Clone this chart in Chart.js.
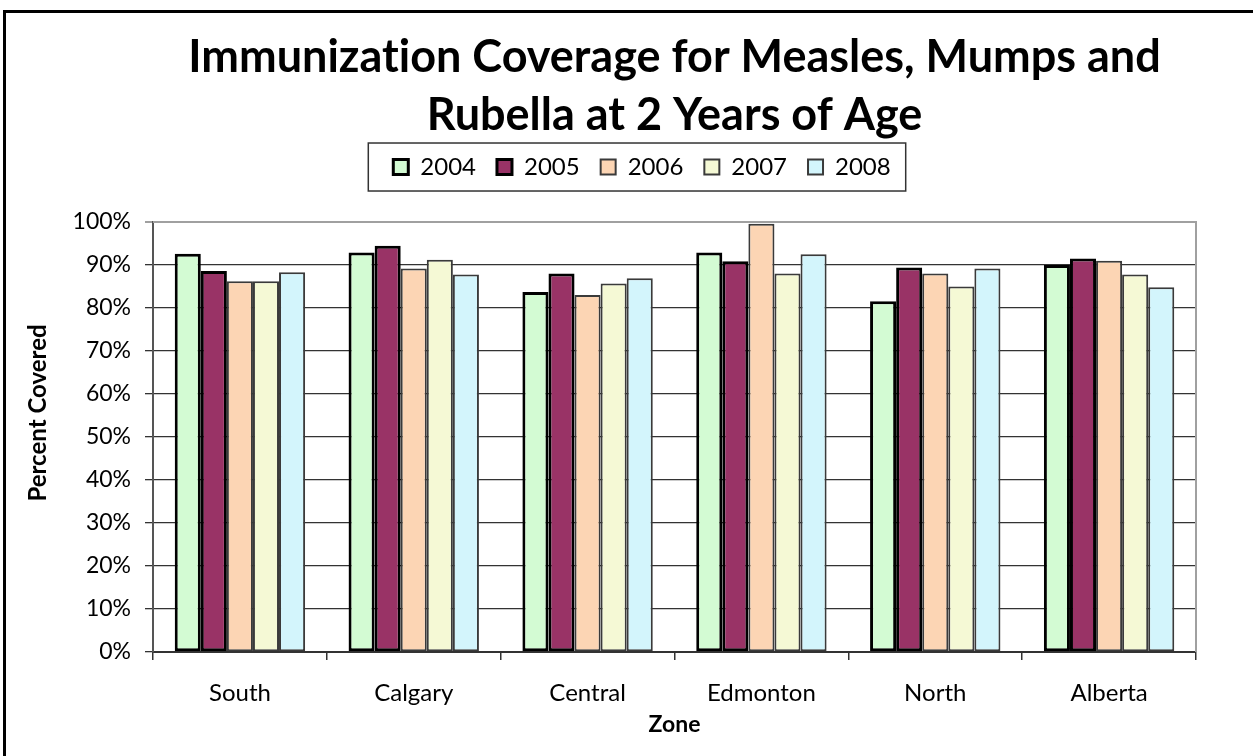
<!DOCTYPE html>
<html>
<head>
<meta charset="utf-8">
<script src="https://cdn.jsdelivr.net/npm/chart.js@4.4.0/dist/chart.umd.min.js"></script>
<style>
  html, body { margin: 0; padding: 0; background: #fff; }
  canvas { display: block; }
</style>
</head>
<body>
<canvas id="mmrChart" width="1253" height="756"></canvas>
<script>
// zones along the x axis
const zones = ["South", "Calgary", "Central", "Edmonton", "North", "Alberta"];
// percent covered per year, in zone order
const cov2004 = [92.6, 92.9, 83.7, 92.9, 81.6, 90.0];
const cov2005 = [88.6, 94.5, 88.0, 90.9, 89.4, 91.5];
const cov2006 = [86.2, 89.2, 83.0, 99.6, 88.0, 91.0];
const cov2007 = [86.2, 91.2, 85.7, 88.0, 85.0, 87.8];
const cov2008 = [88.3, 87.8, 86.9, 92.5, 89.2, 84.8];
const yearLabels = ["2004", "2005", "2006", "2007", "2008"];

const fontFam = "Lato, 'Open Sans', sans-serif";

function makeSet(label, data, fill, edge, width) {
  return {
    label: label,
    data: data,
    backgroundColor: fill,
    borderColor: edge,
    borderWidth: width,
    borderSkipped: false,
  };
}

// legend: extra room below it, nudged up and to the right a little
const legendSpacing = {
  id: "legendSpacing",
  beforeLayout(chart) {
    const lg = chart.legend;
    if (lg && !lg._spaced) {
      const origFit = lg.fit.bind(lg);
      lg.fit = function () {
        origFit();
        this.height += 23;
      };
      lg._spaced = true;
    }
  },
  afterLayout(chart) {
    const lg = chart.legend;
    if (lg) {
      lg.top -= 10;
      lg.bottom -= 10;
      lg.left += 33;
      lg.right += 33;
    }
    // y title sits a bit above the middle of the axis
    const ys = chart.scales.y;
    if (ys && !ys._titleShift) {
      const origTitle = ys.drawTitle.bind(ys);
      ys.drawTitle = function () {
        this.top -= 24;
        this.bottom -= 24;
        origTitle();
        this.top += 24;
        this.bottom += 24;
      };
      ys._titleShift = true;
    }
  },
};

// frame around the page, plot border top/right, and the box around the legend
const decorations = {
  id: "decorations",
  beforeDraw(chart) {
    chart.ctx.textRendering = "optimizeSpeed";
  },
  beforeDatasetsDraw(chart) {
    const c = chart.ctx;
    const a = chart.chartArea;
    c.save();
    c.strokeStyle = "#a0a0a0";
    c.lineWidth = 2;
    c.beginPath();
    c.moveTo(a.left, a.top);
    c.lineTo(a.right, a.top);
    c.lineTo(a.right, a.bottom);
    c.stroke();
    c.restore();
  },
  afterDraw(chart) {
    const c = chart.ctx;
    c.save();
    c.fillStyle = "#000";
    c.fillRect(3, 10, chart.width, 3);
    c.fillRect(3, 10, 3, chart.height);

    const boxes = chart.legend.legendHitBoxes;
    if (boxes && boxes.length) {
      let l = Infinity, r = -Infinity, t = Infinity, b = -Infinity;
      boxes.forEach((hb) => {
        l = Math.min(l, hb.left);
        r = Math.max(r, hb.left + hb.width);
        t = Math.min(t, hb.top);
        b = Math.max(b, hb.top + hb.height);
      });
      const mid = (t + b) / 2;
      c.strokeStyle = "#333";
      c.lineWidth = 1.5;
      c.strokeRect(l - 25, mid - 24, (r - l) + 40, 48);
    }
    c.restore();
  },
};

new Chart(document.getElementById("mmrChart").getContext("2d"), {
  type: "bar",
  data: {
    labels: zones,
    datasets: [
      makeSet(yearLabels[0], cov2004, "#D3FBD3", "#000000", 3),
      makeSet(yearLabels[1], cov2005, "#993366", "#000000", 3),
      makeSet(yearLabels[2], cov2006, "#FCD5B4", "#3a3a3a", 2),
      makeSet(yearLabels[3], cov2007, "#F5F9D5", "#3a3a3a", 2),
      makeSet(yearLabels[4], cov2008, "#D3F5FC", "#3a3a3a", 2),
    ],
  },
  options: {
    responsive: false,
    devicePixelRatio: 1,
    animation: false,
    layout: { padding: { top: 0, left: 22, right: 57, bottom: 16 } },
    datasets: {
      bar: { categoryPercentage: 0.75, barPercentage: 1.0 },
    },
    plugins: {
      title: {
        display: true,
        fullSize: false,
        text: ["Immunization Coverage for Measles, Mumps and", "Rubella at 2 Years of Age"],
        color: "#000",
        font: { family: fontFam, size: 45, weight: "bold", lineHeight: 1.289 },
        padding: { top: 28, bottom: 0 },
      },
      legend: {
        display: true,
        position: "top",
        labels: {
          color: "#000",
          font: { family: fontFam, size: 24 },
          boxWidth: 15,
          boxHeight: 15,
          padding: 21,
        },
      },
      tooltip: { enabled: false },
    },
    scales: {
      x: {
        afterFit: (s) => { s.height = 88; },
        grid: {
          drawOnChartArea: false,
          drawTicks: true,
          tickLength: 8,
          color: "#333",
          lineWidth: 1.5,
        },
        border: { color: "#333", width: 2 },
        ticks: {
          color: "#000",
          font: { family: fontFam, size: 24 },
          padding: 19,
        },
        title: {
          display: true,
          text: "Zone",
          color: "#000",
          font: { family: fontFam, size: 23, weight: "bold", lineHeight: 1.2 },
          padding: { top: 4, bottom: 2 },
        },
      },
      y: {
        min: 0,
        max: 100,
        afterFit: (s) => { s.width = 131; },
        grid: {
          color: (ctx) => (ctx.tick && ctx.tick.value === 100 ? "#a0a0a0" : "#333"),
          lineWidth: (ctx) => (ctx.tick && ctx.tick.value === 100 ? 2 : 1.3),
          tickLength: 8,
        },
        border: { color: "#555", width: 2 },
        ticks: {
          stepSize: 10,
          color: "#000",
          font: { family: fontFam, size: 23 },
          padding: 14,
          callback: (v) => v + "%",
        },
        title: {
          display: true,
          text: "Percent Covered",
          color: "#000",
          font: { family: fontFam, size: 24, weight: "bold", lineHeight: 1.2 },
          padding: { top: 2, bottom: 0 },
        },
      },
    },
  },
  plugins: [legendSpacing, decorations],
});
</script>
</body>
</html>
